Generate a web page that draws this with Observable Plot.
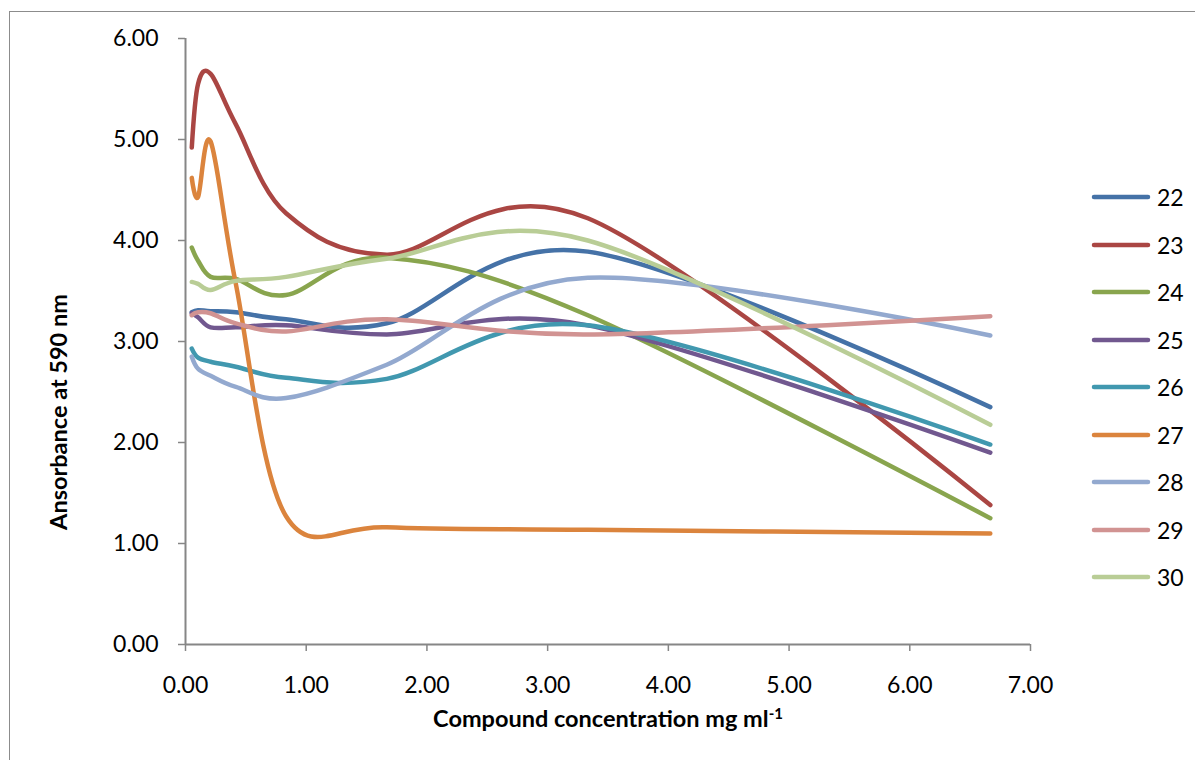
<!DOCTYPE html>
<html><head><meta charset="utf-8">
<script src="https://cdn.jsdelivr.net/npm/d3@7"></script>
<script src="https://cdn.jsdelivr.net/npm/@observablehq/plot@0.6"></script>
<style>
html,body{margin:0;padding:0;background:#fff;overflow:hidden;}
#wrap{position:relative;width:1195px;height:760px;overflow:hidden;font-family:Lato, "Open Sans", sans-serif;}
#border{position:absolute;left:9px;top:11px;width:1300px;height:900px;border:1.5px solid #8c8c8c;box-sizing:border-box}
#chart{position:absolute;left:0;top:0}
#legend{position:absolute;left:1090px;top:0}
.lg{position:absolute;left:0;height:30px;display:flex;align-items:center;white-space:nowrap;font-size:23px;color:#000}
.lg svg{margin-right:5px}
#xtitle{position:absolute;left:608px;top:718px;transform:translate(-50%,-50%);font-weight:bold;font-size:23.5px;white-space:nowrap;color:#000}
#xtitle sup{font-size:15px;vertical-align:8px;line-height:0}
#ytitle{position:absolute;left:58px;top:412px;transform:translate(-50%,-50%) rotate(-90deg);font-weight:bold;font-size:23.5px;white-space:nowrap;color:#000}
</style></head>
<body><div id="wrap"><div id="border"></div><div id="chart"></div><div id="legend"></div>
<div id="xtitle">Compound concentration mg ml<sup>-1</sup></div>
<div id="ytitle">Ansorbance at 590 nm</div>
</div>
<script>
const concentrations = [0.052, 0.104, 0.208, 0.417, 0.833, 1.667, 3.333, 6.667];
const seriesNames = ["22", "23", "24", "25", "26", "27", "28", "29", "30"];
const s22 = [3.29, 3.31, 3.30, 3.29, 3.22, 3.18, 3.89, 2.35];
const s23 = [4.92, 5.55, 5.65, 5.15, 4.27, 3.86, 4.22, 1.38];
const s24 = [3.93, 3.80, 3.64, 3.62, 3.46, 3.83, 3.26, 1.25];
const s25 = [3.28, 3.24, 3.14, 3.14, 3.16, 3.07, 3.16, 1.90];
const s26 = [2.93, 2.84, 2.80, 2.75, 2.64, 2.63, 3.16, 1.98];
const s27 = [4.62, 4.43, 4.98, 3.57, 1.27, 1.16, 1.135, 1.10];
const s28 = [2.85, 2.73, 2.66, 2.55, 2.44, 2.77, 3.63, 3.06];
const s29 = [3.26, 3.29, 3.28, 3.18, 3.10, 3.22, 3.07, 3.25];
const s30 = [3.59, 3.57, 3.51, 3.60, 3.64, 3.82, 4.00, 2.175];
const seriesColors = ["#4572A7", "#AA4643", "#89A54E", "#71588F", "#4198AF", "#DB843D", "#93A9CF", "#D19392", "#B9CD96"];
const xTicks = [0, 1, 2, 3, 4, 5, 6, 7];
const yTicks = [0, 1, 2, 3, 4, 5, 6];

const allSeries = [s22, s23, s24, s25, s26, s27, s28, s29, s30];
const rows = [];
seriesNames.forEach((name, i) => {
  allSeries[i].forEach((v, j) => rows.push({series: name, x: concentrations[j], y: v}));
});

const axisColor = "#868686";
const chart = Plot.plot({
  width: 1195, height: 760,
  marginLeft: 185, marginRight: 165, marginTop: 38, marginBottom: 116,
  style: {fontFamily: "Lato, 'Open Sans', sans-serif", fontSize: "23px", color: "#000", background: "transparent", overflow: "visible"},
  x: {domain: [0, 7]},
  y: {domain: [0, 6]},
  color: {domain: seriesNames, range: seriesColors},
  marks: [
    Plot.axisX({ticks: xTicks, tickFormat: d3.format(".2f"), tickSize: 7, tickPadding: 25, stroke: axisColor, strokeWidth: 1.5, fill: "#000", label: null, fontSize: 23}),
    Plot.axisY({ticks: yTicks, tickFormat: d3.format(".2f"), tickSize: 7, tickPadding: 20, stroke: axisColor, strokeWidth: 1.5, fill: "#000", label: null, fontSize: 23}),
    Plot.ruleY([0], {stroke: axisColor, strokeWidth: 2}),
    Plot.ruleX([0], {stroke: axisColor, strokeWidth: 2}),
    Plot.line(rows, {x: "x", y: "y", z: "series", stroke: "series", strokeWidth: 4.5, curve: "cardinal", strokeLinecap: "round", strokeLinejoin: "round"})
  ]
});
document.getElementById("chart").appendChild(chart);

const legend = d3.select("#legend");
seriesNames.forEach((name, i) => {
  const item = legend.append("div").attr("class", "lg").style("top", (182 + i * 47.5) + "px");
  const svg = item.append("svg").attr("width", 62).attr("height", 10);
  svg.append("line").attr("x1", 4).attr("x2", 58).attr("y1", 5).attr("y2", 5)
    .attr("stroke", seriesColors[i]).attr("stroke-width", 4.5).attr("stroke-linecap", "round");
  item.append("span").text(name);
});
</script>
</body></html>
